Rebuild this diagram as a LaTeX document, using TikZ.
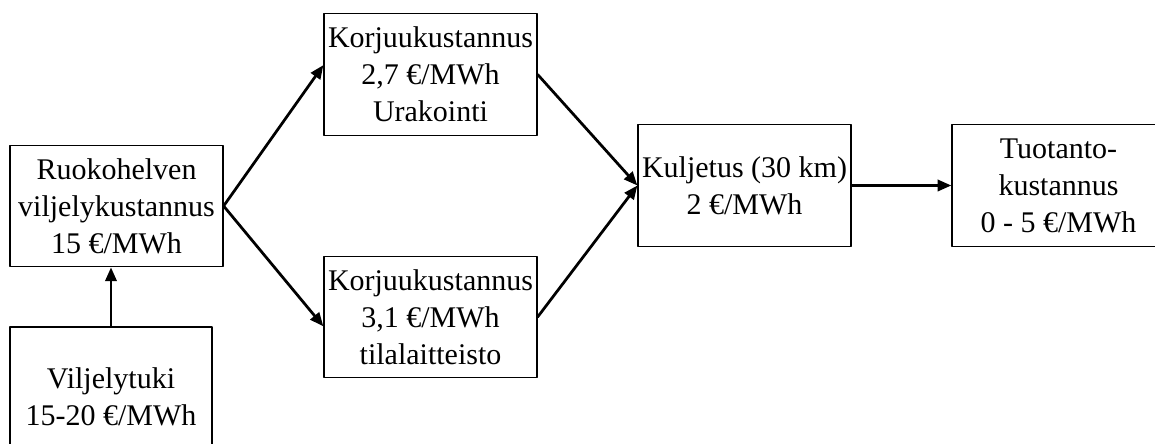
\documentclass[tikz,border=0pt]{standalone}
\usepackage{fontspec}
\setmainfont{Liberation Serif}
\usetikzlibrary{arrows.meta}

\tikzset{
  costbox/.style={draw,line width=0.5pt,align=center,inner sep=1pt,
    minimum width=85.2pt,minimum height=48.6pt,
    font=\fontsize{12}{14.8}\selectfont},
  flow/.style={->,line width=1.1pt}
}

\begin{document}
\begin{tikzpicture}[line cap=round,line join=round,>={Triangle[length=5.5pt,width=4.5pt]},x=0.4pt,y=-0.4pt]
			\useasboundingbox (0,0) rectangle (1155,444);
			\node [costbox] (viljely) at (116.5,206) {Ruokohelven\\viljelykustannus\\15 €/MWh};
			\node [costbox,minimum width=80.8pt,minimum height=56pt] (tuki) at (111,397) {Viljelytuki\\15-20 €/MWh};
			\node [costbox] (urakointi) at (430.5,74.5) {Korjuukustannus\\2,7 €/MWh\\Urakointi};
			\node [costbox] (tila) at (430.5,317) {Korjuukustannus\\3,1 €/MWh\\tilalaitteisto};
			\node [costbox] (kuljetus) at (744.5,185.5) {Kuljetus (30 km)\\2 €/MWh};
			\node [costbox] (tuotanto) at (1058.5,185.5) {Tuotanto-\\kustannus\\0 - 5 €/MWh};
			\draw [flow] (tuki.north) -- (tuki.north |- viljely.south);
			\draw [flow] (viljely.east) -- (urakointi.175);
			\draw [flow] (viljely.east) -- (tila.185);
			\draw [flow] (urakointi.east) -- (kuljetus.west);
			\draw [flow] (tila.east) -- (kuljetus.west);
			\draw [flow] (kuljetus.east) -- (tuotanto.west);
		\end{tikzpicture}
\end{document}
